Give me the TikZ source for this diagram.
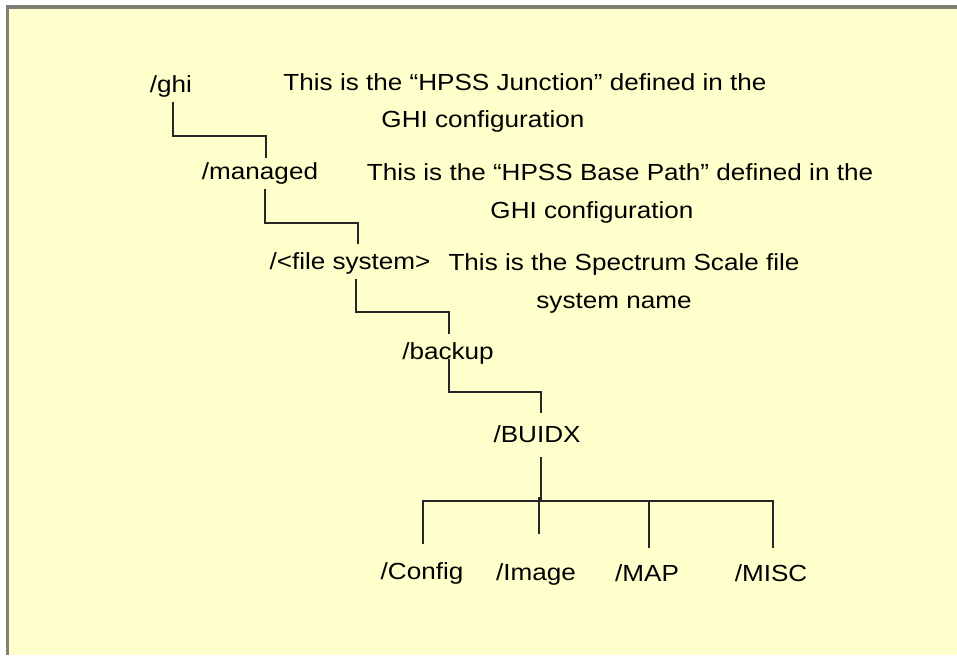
\documentclass[tikz,border=0pt]{standalone}
\usepackage{fontspec}
\setmainfont{Liberation Sans}[FakeStretch=1.12]
\definecolor{bgyellow}{HTML}{FFFFCC}
\definecolor{framegrey}{HTML}{7F7F78}
\definecolor{linecol}{HTML}{262626}
\tikzset{
  lbl/.style={anchor=base, inner sep=0pt, font=\fontsize{23.3}{28}\selectfont, text=black},
  conn/.style={draw=linecol, line width=1.6pt, line cap=rect},
}
\begin{document}
\begin{tikzpicture}[x=1pt,y=-1pt]
\useasboundingbox (0,0) rectangle (957,655);
\fill[white] (0,0) rectangle (957,655);
\fill[bgyellow] (6,5) rectangle (957,655);
\draw[framegrey, line width=3.5pt] (7.7,655) -- (7.7,6.8) -- (957,6.8);

% tree nodes
\node[lbl] (ghi) at (171,93) {/ghi};
\node[lbl] (man) at (260,179) {/managed};
\node[lbl] (fs) at (350,269) {/<file system>};
\node[lbl] (bak) at (448,359) {/backup};
\node[lbl] (bui) at (537,442) {/BUIDX};
\node[lbl] (cfg) at (422,579) {/Config};
\node[lbl] (img) at (536,580) {/Image};
\node[lbl] (map) at (647,581) {/MAP};
\node[lbl] (misc) at (771,581) {/MISC};

% annotations
\node[lbl] (j1) at (525,91) {This is the “HPSS Junction” defined in the};
\node[lbl] (j2) at (483,128) {GHI configuration};
\node[lbl] (b1) at (620,180) {This is the “HPSS Base Path” defined in the};
\node[lbl] (b2) at (592,218) {GHI configuration};
\node[lbl] (s1) at (624,270) {This is the Spectrum Scale file};
\node[lbl] (s2) at (614,308) {system name};

% elbow coordinates
\coordinate (e1) at (265.7,136);
\coordinate (e2) at (357.7,223);
\coordinate (e3) at (449,312);
\coordinate (e4) at (541,392);
\coordinate (bar) at (541,501);

% connectors
\draw[conn] ([xshift=1.7pt,yshift=-10pt]ghi.base) |- (e1) -| ([xshift=5.7pt,yshift=22pt]man.base);
\draw[conn] ([xshift=5pt,yshift=-11pt]man.base) |- (e2) -| ([xshift=7.7pt,yshift=26pt]fs.base);
\draw[conn] ([xshift=6pt,yshift=-11pt]fs.base) |- (e3) -| ([xshift=1pt,yshift=26pt]bak.base);
\draw[conn] ([xshift=1pt,yshift=-1pt]bak.base) |- (e4) -| ([xshift=4pt,yshift=30pt]bui.base);
\draw[conn, line width=2.2pt] ([xshift=4pt,yshift=-16pt]bui.base) -- (bar);
\draw[conn] ([xshift=1pt,yshift=36pt]cfg.base) |- (bar) -| ([xshift=2pt,yshift=34pt]misc.base);
\draw[conn] ([xshift=3pt,yshift=47pt]img.base) -- ++(0,-35);
\draw[conn] ([xshift=2pt,yshift=34pt]map.base) -- ++(0,-45);
\end{tikzpicture}
\end{document}
